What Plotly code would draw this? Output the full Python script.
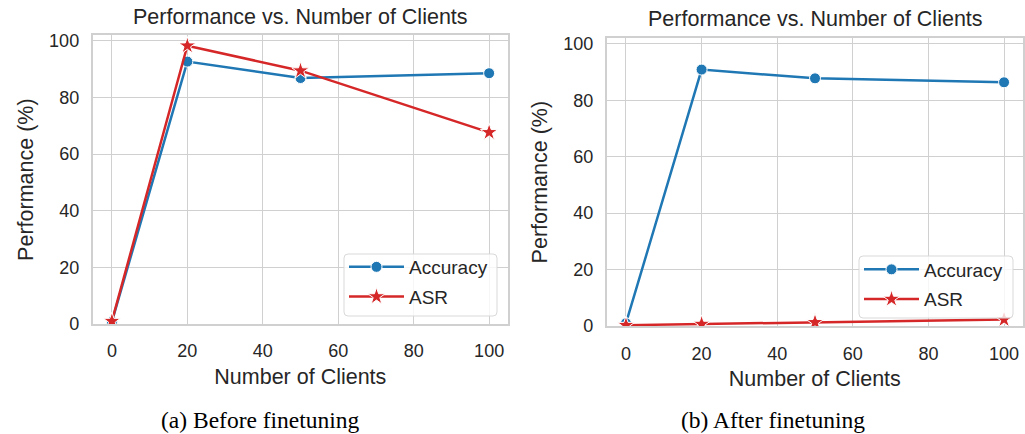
import plotly.graph_objects as go

clients = [0, 20, 50, 100]
acc_before = [0.8, 92.7, 86.9, 88.6]
asr_before = [1.0, 98.3, 89.5, 67.7]
acc_after = [1.0, 90.9, 87.8, 86.4]
asr_after = [0.3, 0.7, 1.3, 2.3]

xticks = [0, 20, 40, 60, 80, 100]
yticks = [0, 20, 40, 60, 80, 100]
title_text = "Performance vs. Number of Clients"
xlabel = "Number of Clients"
ylabel = "Performance (%)"
captions = ["(a) Before finetuning", "(b) After finetuning"]

BLUE = "#1f77b4"
RED = "#d62728"
GRID = "#d0d0d0"
TXT = "#262626"
FONT = "Liberation Sans, Arial, sans-serif"
SERIF = "Liberation Serif, Times New Roman, serif"
W, H = 1025, 434

fig = go.Figure()

def add_panel(acc, asr, xa, ya, leg):
    fig.add_trace(go.Scatter(
        x=clients, y=acc, name="Accuracy", mode="lines+markers",
        line=dict(color=BLUE, width=2.5),
        marker=dict(symbol="circle", size=11, color=BLUE, line=dict(color="white", width=1)),
        xaxis=xa, yaxis=ya, legend=leg, legendgroup=leg + "acc"))
    fig.add_trace(go.Scatter(
        x=clients, y=asr, name="ASR", mode="lines+markers",
        line=dict(color=RED, width=2.5),
        marker=dict(symbol="star", size=13, color=RED, line=dict(color="white", width=1)),
        xaxis=xa, yaxis=ya, legend=leg, legendgroup=leg + "asr"))

add_panel(acc_before, asr_before, "x", "y", "legend")
add_panel(acc_after, asr_after, "x2", "y2", "legend2")

axis_common = dict(
    showgrid=True, gridcolor=GRID, gridwidth=1.2,
    showline=True, mirror=True, linecolor=GRID, linewidth=1.8,
    zeroline=False, ticks="", automargin=False,
    tickfont=dict(family=FONT, size=18, color=TXT),
)
xtitle = dict(text=xlabel, font=dict(family=FONT, size=21.5, color=TXT), standoff=8)
ytitle = dict(text=ylabel, font=dict(family=FONT, size=21.5, color=TXT), standoff=10)

legend_common = dict(xanchor="left", yanchor="top", bgcolor="rgba(0,0,0,0)",
                     borderwidth=0, font=dict(family=FONT, size=19, color=TXT),
                     itemwidth=55, tracegroupgap=2)

fig.update_layout(
    width=W, height=H, autosize=False,
    margin=dict(l=0, r=0, t=0, b=0, pad=0),
    paper_bgcolor="white", plot_bgcolor="white",
    showlegend=True,
    xaxis=dict(domain=[0.0904, 0.4956], range=[-5.1, 105], tickvals=xticks,
               title=xtitle, anchor="y", ticklabelstandoff=10, **axis_common),
    yaxis=dict(domain=[0.2535, 0.9187], range=[0, 102], tickvals=yticks,
               title=ytitle, anchor="x", ticklabelstandoff=8, **axis_common),
    xaxis2=dict(domain=[0.5919, 0.998], range=[-5.1, 105], tickvals=xticks,
                title=xtitle, anchor="y2", ticklabelstandoff=10, **axis_common),
    yaxis2=dict(domain=[0.2488, 0.9118], range=[0, 102], tickvals=yticks,
                title=ytitle, anchor="x2", ticklabelstandoff=8, **axis_common),
    legend=dict(x=344/W, y=1-248/H, **legend_common),
    legend2=dict(x=859/W, y=1-250.5/H, **legend_common),
)

def rounded_box(x0, y0, x1, y1, r=4):
    # pixel coords (top-left origin) -> paper path
    px = lambda v: v / W
    py = lambda v: 1 - v / H
    return (f"M{px(x0+r)},{py(y0)} L{px(x1-r)},{py(y0)} Q{px(x1)},{py(y0)} {px(x1)},{py(y0+r)} "
            f"L{px(x1)},{py(y1-r)} Q{px(x1)},{py(y1)} {px(x1-r)},{py(y1)} "
            f"L{px(x0+r)},{py(y1)} Q{px(x0)},{py(y1)} {px(x0)},{py(y1-r)} "
            f"L{px(x0)},{py(y0+r)} Q{px(x0)},{py(y0)} {px(x0+r)},{py(y0)} Z")

shapes = [
    dict(type="path", path=rounded_box(344, 254, 497, 316), xref="paper", yref="paper",
         fillcolor="rgba(255,255,255,0.8)", line=dict(color="#d9d9d9", width=1), layer="above"),
    dict(type="path", path=rounded_box(859, 256, 1013, 318), xref="paper", yref="paper",
         fillcolor="rgba(255,255,255,0.8)", line=dict(color="#d9d9d9", width=1), layer="above"),
]

annotations = [
    dict(text=title_text, x=300/W, y=1-17/H, xref="paper", yref="paper",
         showarrow=False, xanchor="center", yanchor="middle",
         font=dict(family=FONT, size=21.5, color=TXT)),
    dict(text=title_text, x=815/W, y=1-19/H, xref="paper", yref="paper",
         showarrow=False, xanchor="center", yanchor="middle",
         font=dict(family=FONT, size=21.5, color=TXT)),
    dict(text=captions[0], x=260/W, y=1-420/H, xref="paper", yref="paper",
         showarrow=False, xanchor="center", yanchor="middle",
         font=dict(family=SERIF, size=23.5, color="black")),
    dict(text=captions[1], x=773/W, y=1-420/H, xref="paper", yref="paper",
         showarrow=False, xanchor="center", yanchor="middle",
         font=dict(family=SERIF, size=23.5, color="black")),
]
fig.update_layout(annotations=annotations, shapes=shapes)

post = """
var s = document.createElement('style');
s.textContent = 'html,body{margin:0;padding:0;overflow:hidden;height:434px;width:1025px;}';
document.head.appendChild(s);
"""
fig.write_html("out.html", config={"displayModeBar": False}, post_script=post)
